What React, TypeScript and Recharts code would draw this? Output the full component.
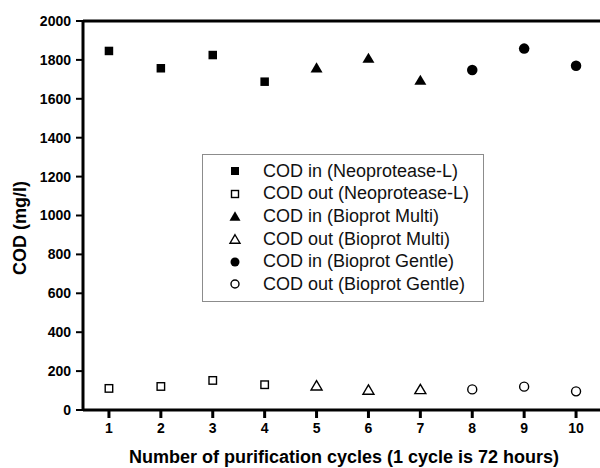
import { ScatterChart, Scatter, XAxis, YAxis, Legend, ReferenceLine } from 'recharts';

// cycles and COD values (mg/l)
const cycles = [1, 2, 3, 4, 5, 6, 7, 8, 9, 10];
const yTicks = [0, 200, 400, 600, 800, 1000, 1200, 1400, 1600, 1800, 2000];

const neoCycles = [1, 2, 3, 4];
const neoIn = [1846, 1757, 1825, 1688];
const neoOut = [111, 121, 152, 130];

const multiCycles = [5, 6, 7];
const multiIn = [1762, 1811, 1698];
const multiOut = [127, 105, 108];

const gentleCycles = [8, 9, 10];
const gentleIn = [1748, 1858, 1770];
const gentleOut = [106, 120, 96];

const seriesNames = [
  'COD in (Neoprotease-L)',
  'COD out (Neoprotease-L)',
  'COD in (Bioprot Multi)',
  'COD out (Bioprot Multi)',
  'COD in (Bioprot Gentle)',
  'COD out (Bioprot Gentle)',
];

const FONT = '"Liberation Sans", Arial, sans-serif';

const toPoints = (xs: number[], ys: number[]) => xs.map((x, i) => ({ x, y: ys[i] }));

type Kind = 'square' | 'triangle' | 'circle';

const marker = (kind: Kind, filled: boolean, cx: number, cy: number, s: number) => {
  const fill = filled ? '#000' : '#fff';
  const sw = filled ? 0 : 1.4;
  if (kind === 'square') {
    return <rect x={cx - s / 2} y={cy - s / 2} width={s} height={s} fill={fill} stroke="#000" strokeWidth={sw} />;
  }
  if (kind === 'triangle') {
    const h = s * 0.85;
    const pts = `${cx},${cy - h / 2} ${cx + s / 2},${cy + h / 2} ${cx - s / 2},${cy + h / 2}`;
    return <polygon points={pts} fill={fill} stroke="#000" strokeWidth={sw} strokeLinejoin="miter" />;
  }
  return <circle cx={cx} cy={cy} r={s / 2} fill={fill} stroke="#000" strokeWidth={sw} />;
};

const legendKinds: Kind[] = ['square', 'square', 'triangle', 'triangle', 'circle', 'circle'];
const legendSizes = [8, 7, 11, 10, 9, 8];

const LegendBox = () => (
  <div
    style={{
      width: 280,
      height: 141,
      border: '1px solid #8c8c8c',
      background: '#fff',
      boxSizing: 'content-box',
      paddingTop: 5,
      fontFamily: FONT,
    }}
  >
    {seriesNames.map((name, i) => (
      <div key={name} style={{ display: 'flex', alignItems: 'center', height: 22.6 }}>
        <svg width={60} height={22} style={{ flex: 'none' }}>
          {marker(legendKinds[i], i % 2 === 0, 32, 11, legendSizes[i])}
        </svg>
        <span style={{ fontSize: 18, color: '#111', whiteSpace: 'nowrap' }}>{name}</span>
      </div>
    ))}
  </div>
);

export default function App() {
  return (
    <div style={{ position: 'absolute', left: 0, top: 0, width: 600, height: 468, overflow: 'hidden', background: '#fff' }}>
      <ScatterChart width={602} height={468} margin={{ top: 21, right: 0, bottom: 0, left: 0 }}>
        <XAxis
          type="number"
          dataKey="x"
          domain={[0.5, 10.5]}
          ticks={cycles}
          interval={0}
          height={58}
          axisLine={{ stroke: '#000', strokeWidth: 3 }}
          tickLine={{ stroke: '#000', strokeWidth: 3 }}
          tickSize={8}
          tickMargin={5}
          tick={{ fill: '#000', fontSize: 14, fontWeight: 'bold', fontFamily: FONT }}
          label={{
            content: () => (
              <text x={344} y={463} textAnchor="middle" fill="#000" fontSize={18} fontWeight="bold" fontFamily={FONT}>
                Number of purification cycles (1 cycle is 72 hours)
              </text>
            ),
          }}
        />
        <YAxis
          type="number"
          dataKey="y"
          domain={[0, 2000]}
          ticks={yTicks}
          interval={0}
          width={83}
          axisLine={{ stroke: '#000', strokeWidth: 3 }}
          tickLine={{ stroke: '#000', strokeWidth: 2 }}
          tickSize={7}
          tickMargin={5}
          tick={{ fill: '#000', fontSize: 14, fontWeight: 'bold', fontFamily: FONT }}
          label={{
            content: () => (
              <text
                x={20}
                y={228}
                transform="rotate(-90 20 228)"
                textAnchor="middle"
                dominantBaseline="central"
                fill="#000"
                fontSize={18}
                fontWeight="bold"
                fontFamily={FONT}
              >
                COD (mg/l)
              </text>
            ),
          }}
        />
        <ReferenceLine y={2000} stroke="#000" strokeWidth={3} />
        <Legend
          layout="vertical"
          align="center"
          verticalAlign="middle"
          wrapperStyle={{ left: 202, top: 154, width: 'auto' }}
          content={() => <LegendBox />}
        />
        <Scatter name={seriesNames[0]} data={toPoints(neoCycles, neoIn)} isAnimationActive={false}
          shape={(p: any) => marker('square', true, p.cx, p.cy, 8.5)} />
        <Scatter name={seriesNames[1]} data={toPoints(neoCycles, neoOut)} isAnimationActive={false}
          shape={(p: any) => marker('square', false, p.cx, p.cy, 7.5)} />
        <Scatter name={seriesNames[2]} data={toPoints(multiCycles, multiIn)} isAnimationActive={false}
          shape={(p: any) => marker('triangle', true, p.cx, p.cy, 12)} />
        <Scatter name={seriesNames[3]} data={toPoints(multiCycles, multiOut)} isAnimationActive={false}
          shape={(p: any) => marker('triangle', false, p.cx, p.cy, 11)} />
        <Scatter name={seriesNames[4]} data={toPoints(gentleCycles, gentleIn)} isAnimationActive={false}
          shape={(p: any) => marker('circle', true, p.cx, p.cy, 10.5)} />
        <Scatter name={seriesNames[5]} data={toPoints(gentleCycles, gentleOut)} isAnimationActive={false}
          shape={(p: any) => marker('circle', false, p.cx, p.cy, 9)} />
      </ScatterChart>
    </div>
  );
}
